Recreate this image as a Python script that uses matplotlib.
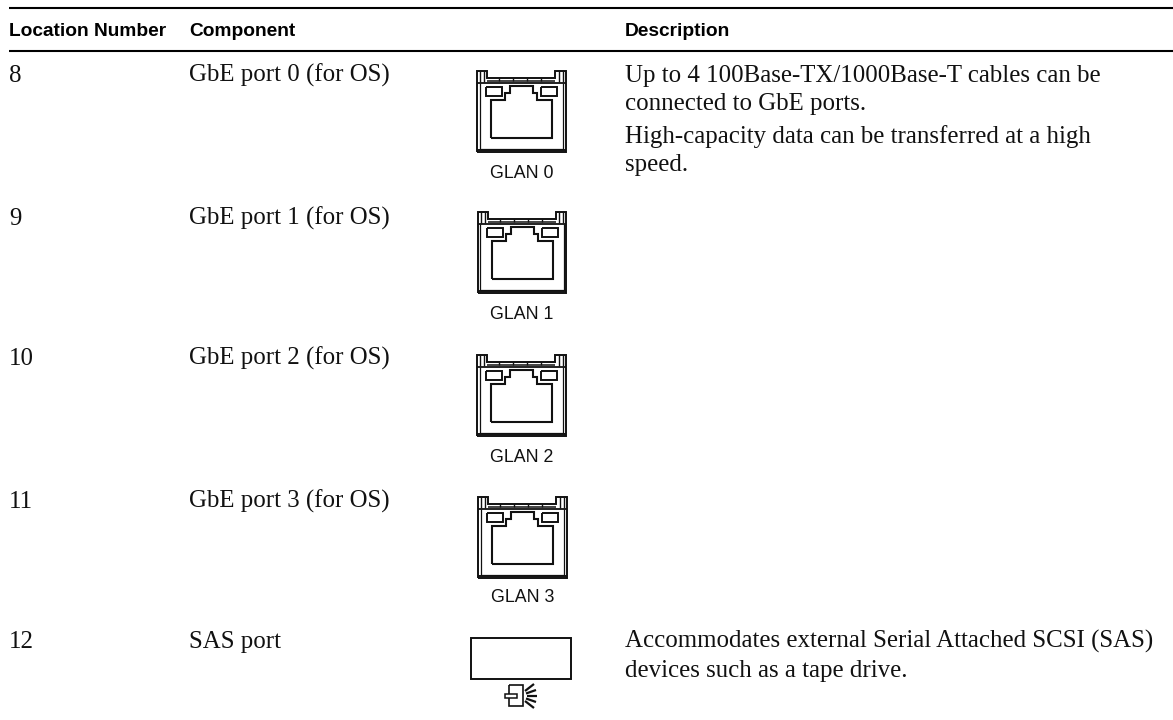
import matplotlib
matplotlib.use("Agg")
import matplotlib.pyplot as plt
from matplotlib.patches import Rectangle

headers = ["Location Number", "Component", "Description"]
locations = ["8", "9", "10", "11", "12"]
components = ["GbE port 0 (for OS)", "GbE port 1 (for OS)", "GbE port 2 (for OS)",
              "GbE port 3 (for OS)", "SAS port"]
port_labels = ["GLAN 0", "GLAN 1", "GLAN 2", "GLAN 3"]
description_lines = [
    ("Up to 4 100Base-TX/1000Base-T cables can be", 82),
    ("connected to GbE ports.", 110),
    ("High-capacity data can be transferred at a high", 143),
    ("speed.", 171),
    ("Accommodates external Serial Attached SCSI (SAS)", 648),
    ("devices such as a tape drive.", 677),
]
row_y = [82, 225, 365, 508, 648]
icon_top = [71, 212, 355, 497]
icon_left = [477, 477.5, 477, 478]
label_y = [178, 319, 462, 602]

INK = "#111111"
SERIF = "Liberation Serif"
SANS = "Liberation Sans"
BODY = 17.9
fig = plt.figure(figsize=(11.73, 7.2), dpi=100)
ax = fig.add_axes([0, 0, 1, 1])
ax.set_xlim(0, 1173)
ax.set_ylim(720, 0)
ax.axis("off")

for y in (7.5, 51):
    ax.plot([9, 1173], [y, y], color="black", lw=1.5, solid_capstyle="butt")

for x, h in zip((9, 189, 625), headers):
    ax.text(x, 36, h, family=SANS, weight="bold", fontsize=13.8, va="baseline", color="black")
for loc, comp, y in zip(locations, components, row_y):
    ax.text(9, y, loc, family=SERIF, fontsize=BODY, va="baseline", color=INK)
    ax.text(189, y, comp, family=SERIF, fontsize=BODY, va="baseline", color=INK)
for line, y in description_lines:
    ax.text(625, y, line, family=SERIF, fontsize=BODY, va="baseline", color=INK)


def poly(x0, y0, pts, lw=1.1, close=False):
    xs = [x0 + p[0] for p in pts]
    ys = [y0 + p[1] for p in pts]
    if close:
        xs.append(xs[0])
        ys.append(ys[0])
    ax.plot(xs, ys, color=INK, lw=lw, solid_joinstyle="miter", solid_capstyle="butt")


def port_icon(x0, y0):
    # outer shell with raised tabs
    poly(x0, y0, [(0, 81), (0, 0), (10, 0), (10, 7), (78, 7), (78, 0), (88.5, 0), (88.5, 81)], close=True, lw=1.4)
    poly(x0, y0, [(3, 0), (3, 11)], lw=1.0)
    poly(x0, y0, [(7, 0), (7, 11)], lw=1.0)
    poly(x0, y0, [(81.5, 0), (81.5, 11)], lw=1.0)
    poly(x0, y0, [(85.5, 0), (85.5, 11)], lw=1.0)
    poly(x0, y0, [(10, 10), (78, 10)], lw=1.1)
    poly(x0, y0, [(0, 12), (88.5, 12)], lw=1.3)
    for dx in (22, 36, 50, 64):
        poly(x0, y0, [(dx, 7), (dx, 10)], lw=1.0)
    # inner shell and bottom lip
    poly(x0, y0, [(2.5, 12), (2.5, 78), (86, 78), (86, 12)], lw=0.9)
    poly(x0, y0, [(0, 78.5), (88.5, 78.5)], lw=1.4)
    # status lamps
    poly(x0, y0, [(9, 16), (25, 16), (25, 25), (9, 25)], close=True, lw=1.4)
    poly(x0, y0, [(64, 16), (80, 16), (80, 25), (64, 25)], close=True, lw=1.4)
    # RJ45 opening
    poly(x0, y0, [(14, 67), (14, 29), (28, 29), (28, 22), (33, 22), (33, 15), (56, 15),
                  (56, 22), (60, 22), (60, 29), (75, 29), (75, 67)], close=True, lw=1.5)


for x0, y0, lab, ly in zip(icon_left, icon_top, port_labels, label_y):
    port_icon(x0, y0)
    ax.text(x0 + 44.5, ly, lab, family=SANS, fontsize=12.8, ha="center", va="baseline", color=INK)

# SAS connector and its symbol
ax.add_patch(Rectangle((470.5, 638), 100, 41, fill=False, ec=INK, lw=1.4))
poly(509, 685, [(0, 0), (14, 0), (14, 21), (0, 21)], close=True, lw=1.2)
ax.add_patch(Rectangle((505, 694), 12, 3.5, fc="white", ec=INK, lw=1.1, zorder=3))
rays = [((525, 691), (534, 684)), ((526, 693.5), (536, 690)), ((527, 696), (537, 696)),
        ((526, 698.5), (536, 702)), ((525, 701), (534, 708))]
for start, end in rays:
    ax.plot([start[0], end[0]], [start[1], end[1]], color=INK, lw=1.6, solid_capstyle="butt")

fig.savefig("out.png", dpi=100, facecolor="white")
